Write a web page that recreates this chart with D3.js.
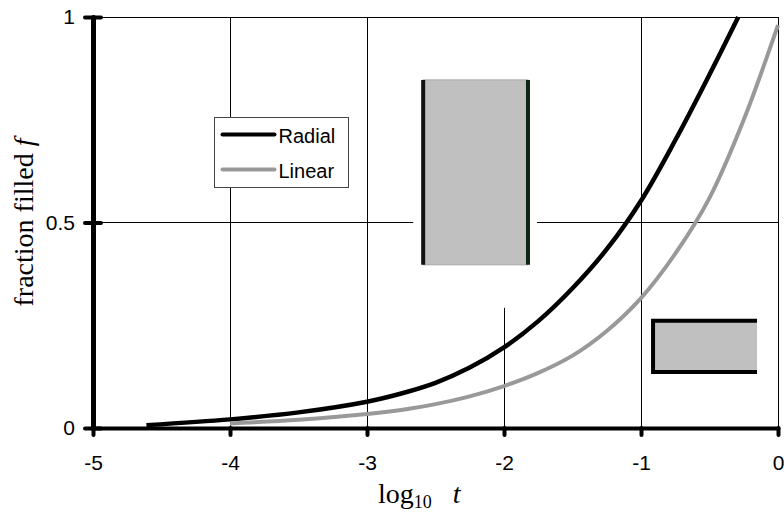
<!DOCTYPE html>
<html>
<head>
<meta charset="utf-8">
<script src="https://cdn.jsdelivr.net/npm/d3@7"></script>
<style>
  body { margin: 0; background: #fff; }
</style>
</head>
<body>
<div id="chart"></div>
<script>
// ---- data ----
const xTicks = [-5, -4, -3, -2, -1, 0];
const yTicks = [0, 0.5, 1];
const yTickLabels = ["0", "0.5", "1"];
const seriesNames = ["Radial", "Linear"];
const seriesColors = ["#000000", "#999999"];

const radialLogT = [-4.61, -4.0, -3.5, -3.0, -2.75, -2.5, -2.25, -2.0, -1.75, -1.5, -1.25, -1.0, -0.75, -0.5, -0.29];
const radialF    = [0.007, 0.021, 0.038, 0.064, 0.084, 0.11, 0.147, 0.196, 0.26, 0.34, 0.435, 0.553, 0.70, 0.86, 1.0];

const linearLogT = [-4.0, -3.5, -3.0, -2.75, -2.5, -2.25, -2.0, -1.75, -1.5, -1.25, -1.0, -0.75, -0.5, -0.25, 0];
const linearF    = [0.011, 0.02, 0.034, 0.044, 0.058, 0.077, 0.102, 0.134, 0.176, 0.236, 0.316, 0.424, 0.56, 0.75, 0.98];

// the two sketches of the containers, in data units
const tallBox  = { x0: -2.59, x1: -1.825, f0: 0.397, f1: 0.847 };
const flatBox  = { x0: -0.912, x1: -0.153, f0: 0.136, f1: 0.261 };

// ---- layout ----
const width = 784, height = 517;
const x = d3.scaleLinear().domain([-5, 0]).range([93, 778]);
const y = d3.scaleLinear().domain([0, 1]).range([428, 17]);

const svg = d3.select("#chart").append("svg")
    .attr("width", width)
    .attr("height", height)
    .style("display", "block");

// gridlines
svg.append("g").selectAll("line")
    .data(xTicks.filter(d => d !== -5))
    .join("line")
    .attr("x1", d => x(d)).attr("x2", d => x(d))
    .attr("y1", y(1)).attr("y2", y(0))
    .attr("stroke", "#000").attr("stroke-width", 1)
    .attr("shape-rendering", "crispEdges");

svg.append("g").selectAll("line")
    .data(yTicks.filter(d => d !== 0))
    .join("line")
    .attr("x1", x(-5)).attr("x2", x(0))
    .attr("y1", d => y(d)).attr("y2", d => y(d))
    .attr("stroke", "#000").attr("stroke-width", 1)
    .attr("shape-rendering", "crispEdges");

// white backing of the pasted tall sketch hides the grid behind it
svg.append("rect")
    .attr("x", x(tallBox.x0) - 10)
    .attr("width", x(tallBox.x1) - x(tallBox.x0) + 19)
    .attr("y", y(1) + 1)
    .attr("height", y(tallBox.f0) + 43 - y(1) - 1)
    .attr("fill", "#fff");

// tall container
svg.append("rect")
    .attr("x", x(tallBox.x0)).attr("y", y(tallBox.f1))
    .attr("width", x(tallBox.x1) - x(tallBox.x0))
    .attr("height", y(tallBox.f0) - y(tallBox.f1))
    .attr("fill", "#c0c0c0").attr("stroke", "#a8a8a8").attr("stroke-width", 1);
svg.append("line")
    .attr("x1", x(tallBox.x0)).attr("x2", x(tallBox.x0))
    .attr("y1", y(tallBox.f1)).attr("y2", y(tallBox.f0))
    .attr("stroke", "#111").attr("stroke-width", 4);
svg.append("line")
    .attr("x1", x(tallBox.x1)).attr("x2", x(tallBox.x1))
    .attr("y1", y(tallBox.f1)).attr("y2", y(tallBox.f0))
    .attr("stroke", "#0d2616").attr("stroke-width", 4);

// flat container, open on the right
svg.append("rect")
    .attr("x", x(flatBox.x0)).attr("y", y(flatBox.f1))
    .attr("width", x(flatBox.x1) - x(flatBox.x0))
    .attr("height", y(flatBox.f0) - y(flatBox.f1))
    .attr("fill", "#c0c0c0");
svg.append("path")
    .attr("d", `M${x(flatBox.x1)},${y(flatBox.f1)}H${x(flatBox.x0)}V${y(flatBox.f0)}H${x(flatBox.x1)}`)
    .attr("fill", "none").attr("stroke", "#000").attr("stroke-width", 4);

// curves
const line = d3.line()
    .x(d => x(d[0]))
    .y(d => y(d[1]))
    .curve(d3.curveCatmullRom.alpha(0.5));

const series = [
    d3.zip(radialLogT, radialF),
    d3.zip(linearLogT, linearF)
];

svg.append("g").selectAll("path")
    .data(series)
    .join("path")
    .attr("d", line)
    .attr("fill", "none")
    .attr("stroke", (d, i) => seriesColors[i])
    .attr("stroke-width", (d, i) => i === 0 ? 4.5 : 4)
    .attr("stroke-linejoin", "round");

// legend
const legend = svg.append("g").attr("transform", "translate(214.5,117.5)");
legend.append("rect")
    .attr("width", 134).attr("height", 70)
    .attr("fill", "#fff").attr("stroke", "#444").attr("stroke-width", 1);
seriesNames.forEach((name, i) => {
    const ly = 17 + i * 35;
    legend.append("line")
        .attr("x1", 8).attr("x2", 60)
        .attr("y1", ly).attr("y2", ly)
        .attr("stroke", seriesColors[i]).attr("stroke-width", 4)
        .attr("stroke-linecap", "round");
    legend.append("text")
        .attr("x", 64).attr("y", ly + 8)
        .style("font-family", "'Liberation Sans', Arial, sans-serif")
        .style("font-size", "20px")
        .text(name);
});

// axes
const xAxis = svg.append("g")
    .attr("transform", `translate(0,${y(0)})`)
    .call(d3.axisBottom(x).tickValues(xTicks).tickSize(7).tickSizeOuter(0)
        .tickPadding(20).tickFormat(d => String(d)));

const yAxis = svg.append("g")
    .attr("transform", `translate(${x(-5)},0)`)
    .call(d3.axisLeft(y).tickValues(yTicks).tickSize(8).tickSizeOuter(0)
        .tickPadding(10).tickFormat((d, i) => yTickLabels[i]));

xAxis.select(".domain").attr("stroke", "#000").attr("stroke-width", 4).attr("stroke-linecap", "round");
xAxis.selectAll(".tick line").attr("stroke-width", 4).attr("stroke-linecap", "round");
yAxis.select(".domain").attr("stroke", "#000").attr("stroke-width", 5).attr("stroke-linecap", "round");
yAxis.selectAll(".tick line").attr("x1", 8).attr("stroke-width", 4).attr("stroke-linecap", "round");

svg.selectAll(".tick text")
    .style("font-family", "'Liberation Sans', Arial, sans-serif")
    .style("font-size", "21px")
    .attr("fill", "#000");

// axis titles
const yTitle = svg.append("text")
    .attr("transform", `translate(33,${y(0.5)}) rotate(-90)`)
    .attr("text-anchor", "middle")
    .style("font-family", "'Liberation Serif', 'Times New Roman', serif")
    .style("font-size", "28px");
yTitle.append("tspan").text("fraction filled ");
yTitle.append("tspan").style("font-style", "italic").text("f");

const xTitle = svg.append("text")
    .attr("x", 378).attr("y", 503)
    .style("font-family", "'Liberation Serif', 'Times New Roman', serif")
    .style("font-size", "28px");
xTitle.append("tspan").text("log");
xTitle.append("tspan").attr("dy", 5).style("font-size", "18px").text("10");
xTitle.append("tspan").attr("dy", -5).text("\u00a0\u00a0\u00a0");
xTitle.append("tspan").style("font-style", "italic").text("t");
</script>
</body>
</html>
